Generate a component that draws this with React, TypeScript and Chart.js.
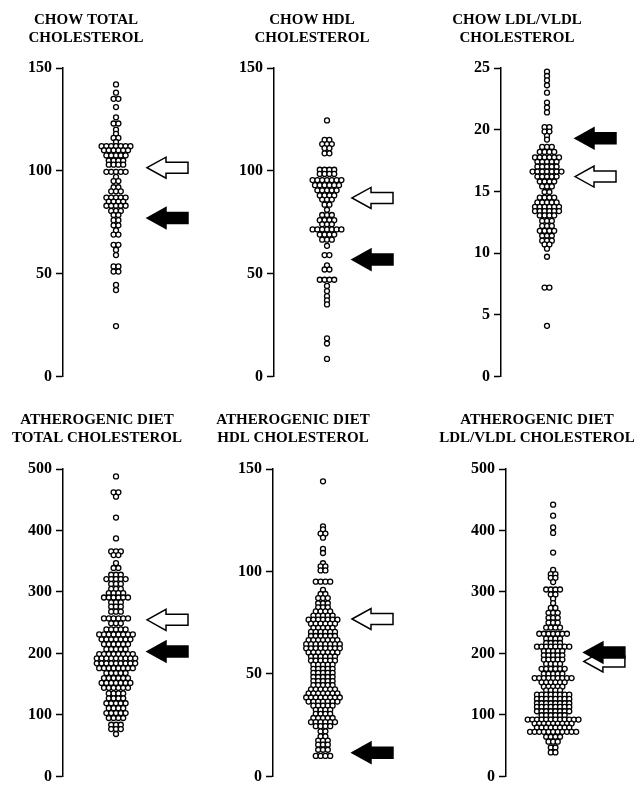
import React, { useEffect, useRef } from "react";
import { Chart, registerables } from "chart.js";

Chart.register(...registerables);

const FONT = "'Liberation Serif', 'Times New Roman', Times, serif";

// ---------------- data ----------------
// Each panel: dot rows given as level (mg/dl) and number of animals at that level.
const chowTotalLevels = [142, 138, 135, 131, 126, 123, 120, 118, 116, 114, 112, 110, 107.5, 105, 103, 99.5, 97, 95, 92, 90, 87, 85, 83, 80.5, 78.5, 76, 73.5, 71, 69, 64, 61.5, 59, 53.5, 51, 44.5, 42, 24.5];
const chowTotalCounts = [1, 1, 2, 1, 1, 2, 1, 1, 2, 1, 7, 6, 5, 4, 4, 5, 1, 2, 2, 3, 5, 4, 5, 3, 2, 2, 2, 1, 2, 2, 1, 1, 2, 2, 1, 1, 1];

const chowHdlLevels = [124.5, 115, 113, 111, 108.5, 100.5, 98.5, 95.5, 93, 90.5, 88, 86, 83.5, 81, 78.5, 76, 74, 71.5, 69, 66.5, 63.5, 59, 54, 52, 47, 44, 41.5, 39, 37, 35, 18.5, 16, 8.5];
const chowHdlCounts = [1, 2, 3, 2, 2, 4, 4, 7, 6, 5, 4, 3, 2, 1, 3, 4, 3, 7, 4, 3, 1, 2, 1, 2, 4, 1, 1, 1, 1, 1, 1, 1, 1];

const chowLdlLevels = [24.7, 24.35, 24.0, 23.6, 23.0, 22.2, 21.8, 21.4, 20.2, 19.85, 19.5, 19.2, 18.6, 18.2, 17.75, 17.4, 17.0, 16.6, 16.2, 15.8, 15.4, 14.95, 14.5, 14.1, 13.75, 13.4, 13.05, 12.6, 12.2, 11.8, 11.4, 11.0, 10.7, 10.35, 9.7, 7.2, 4.1];
const chowLdlCounts = [1, 1, 1, 1, 1, 1, 1, 1, 2, 2, 1, 1, 3, 4, 6, 5, 5, 7, 5, 4, 3, 2, 4, 5, 6, 6, 4, 3, 3, 4, 3, 3, 2, 1, 1, 2, 1];

const athTotalLevels = [488, 462, 455, 421, 387, 366, 360, 347, 339, 328, 321, 313, 305, 298, 291, 283, 276, 268, 257, 249, 239, 231, 223, 215, 207, 199, 192, 184, 176, 168, 160, 152, 144, 135, 127, 119, 111, 103, 95, 84, 77, 69];
const athTotalCounts = [1, 2, 1, 1, 1, 3, 2, 1, 2, 3, 5, 3, 3, 4, 6, 3, 3, 3, 6, 3, 5, 8, 7, 6, 5, 8, 9, 9, 8, 5, 6, 7, 6, 4, 4, 5, 4, 5, 4, 3, 3, 1];

const athHdlLevels = [144, 122, 120.5, 118.5, 116.5, 111, 109, 104, 102.5, 100.5, 95, 91, 89, 87, 84.5, 82.5, 80.5, 78.5, 76.5, 74.5, 72.5, 70.5, 68.5, 66.5, 64.5, 62.5, 60.5, 58.5, 56.5, 54.5, 52.5, 50.5, 48.5, 46.5, 44.5, 42.5, 40.5, 38.5, 36.5, 34.5, 32.5, 30.5, 28.5, 26.5, 24.5, 22, 19.5, 17.5, 15.5, 13, 10];
const athHdlCounts = [1, 1, 1, 2, 1, 1, 1, 1, 2, 2, 4, 1, 2, 3, 3, 3, 4, 5, 7, 6, 5, 6, 6, 7, 8, 8, 7, 6, 6, 5, 5, 5, 5, 5, 5, 6, 7, 8, 7, 5, 4, 4, 5, 6, 4, 2, 2, 3, 3, 3, 4];

const athLdlLevels = [442, 424, 405, 396, 364, 336, 329, 323, 316, 304, 296, 289, 282, 274, 266, 258, 250, 242, 232, 224, 217, 211, 204, 197, 190, 183, 175, 167, 160, 153, 146, 140, 133, 126, 119, 113, 106, 99.5, 92.5, 86, 79.5, 72.5, 64.5, 56.5, 47, 39];
const athLdlCounts = [1, 1, 1, 1, 1, 1, 2, 2, 1, 4, 2, 1, 1, 2, 3, 3, 3, 4, 7, 4, 4, 8, 5, 5, 5, 4, 6, 5, 9, 6, 5, 4, 8, 8, 8, 8, 8, 6, 12, 9, 8, 11, 4, 3, 2, 2];

// arrow markers (open and filled), in panel order
const openArrowValues = [101.5, 86.8, 16.2, 254.6, 76.8, 187];
const filledArrowValues = [77, 56.8, 19.3, 203, 11.6, 201.6];

// axis ticks
const yMaxValues = [150, 150, 25, 500, 150, 500];
const yStepValues = [50, 50, 5, 100, 50, 100];

const panelTitles = [
  ["CHOW TOTAL", "CHOLESTEROL"],
  ["CHOW HDL", "CHOLESTEROL"],
  ["CHOW LDL/VLDL", "CHOLESTEROL"],
  ["ATHEROGENIC DIET", "TOTAL CHOLESTEROL"],
  ["ATHEROGENIC DIET", "HDL CHOLESTEROL"],
  ["ATHEROGENIC DIET", "LDL/VLDL CHOLESTEROL"],
];

const panelLevels = [chowTotalLevels, chowHdlLevels, chowLdlLevels, athTotalLevels, athHdlLevels, athLdlLevels];
const panelCounts = [chowTotalCounts, chowHdlCounts, chowLdlCounts, athTotalCounts, athHdlCounts, athLdlCounts];

// ---------------- layout (styling only) ----------------
type Layout = {
  left: number; top: number; w: number; h: number;
  axisW: number; padRight: number; padBottom: number;
  titleTop: number; titleBottom: number;
  dotCenter: number; arrowTip: number;
};

const layouts: Layout[] = [
  { left: 0, top: 0, w: 215, h: 390, axisW: 63, padRight: 43, padBottom: 13, titleTop: 11, titleBottom: 21, dotCenter: 116, arrowTip: 147 },
  { left: 215, top: 0, w: 215, h: 390, axisW: 59, padRight: 21, padBottom: 13, titleTop: 11, titleBottom: 21, dotCenter: 327, arrowTip: 352 },
  { left: 430, top: 0, w: 214, h: 390, axisW: 71, padRight: 40, padBottom: 13, titleTop: 11, titleBottom: 21, dotCenter: 547, arrowTip: 575 },
  { left: 0, top: 390, w: 215, h: 400, axisW: 63, padRight: 21, padBottom: 13, titleTop: 21, titleBottom: 22, dotCenter: 116, arrowTip: 147 },
  { left: 215, top: 390, w: 215, h: 400, axisW: 58, padRight: 59, padBottom: 13, titleTop: 21, titleBottom: 22, dotCenter: 323, arrowTip: 352 },
  { left: 430, top: 390, w: 214, h: 400, axisW: 76, padRight: 0, padBottom: 13, titleTop: 21, titleBottom: 22, dotCenter: 555, arrowTip: 587 },
];

const DOT_SPACING = 4.8;

function rowsToPoints(levels: number[], counts: number[]) {
  const pts: { x: number; y: number }[] = [];
  levels.forEach((v, i) => {
    const n = counts[i];
    for (let k = 0; k < n; k++) {
      pts.push({ x: (k - (n - 1) / 2) * DOT_SPACING, y: v });
    }
  });
  return pts;
}

const arrowPlugin = {
  id: "arrows",
  afterDatasetsDraw(chart: any, _args: any, opts: any) {
    const { ctx } = chart;
    const xs = chart.scales.x;
    const ys = chart.scales.y;
    const tipX = xs.getPixelForValue(opts.tip);
    const draw = (val: number, filled: boolean) => {
      const yy = ys.getPixelForValue(val);
      ctx.save();
      ctx.beginPath();
      ctx.moveTo(tipX, yy);
      ctx.lineTo(tipX + 19, yy - 10.5);
      ctx.lineTo(tipX + 19, yy - 5.5);
      ctx.lineTo(tipX + 41, yy - 5.5);
      ctx.lineTo(tipX + 41, yy + 5.5);
      ctx.lineTo(tipX + 19, yy + 5.5);
      ctx.lineTo(tipX + 19, yy + 10.5);
      ctx.closePath();
      ctx.fillStyle = filled ? "#000" : "#fff";
      ctx.fill();
      ctx.lineWidth = 1.5;
      ctx.strokeStyle = "#000";
      ctx.lineJoin = "miter";
      ctx.stroke();
      ctx.restore();
    };
    draw(opts.open, false);
    draw(opts.filled, true);
  },
};

function Panel({ index }: { index: number }) {
  const ref = useRef<HTMLCanvasElement>(null);
  const L = layouts[index];
  useEffect(() => {
    if (!ref.current) return;
    const areaLeft = L.left + L.axisW;
    const areaRight = L.left + L.w - L.padRight;
    const chart = new Chart(ref.current, {
      type: "scatter",
      data: {
        datasets: [
          {
            data: rowsToPoints(panelLevels[index], panelCounts[index]),
            pointRadius: 2.5,
            pointBorderWidth: 1.3,
            pointBackgroundColor: "#fff",
            pointBorderColor: "#000",
            pointStyle: "circle",
            clip: false as any,
          },
        ],
      },
      options: {
        responsive: false,
        animation: false,
        devicePixelRatio: 1,
        events: [],
        layout: { padding: { left: 0, right: L.padRight, top: 0, bottom: L.padBottom } },
        plugins: {
          legend: { display: false },
          tooltip: { enabled: false },
          title: {
            display: true,
            text: panelTitles[index],
            color: "#000",
            font: { family: FONT, size: 15, weight: "bold", lineHeight: 1.2 },
            padding: { top: L.titleTop, bottom: L.titleBottom },
          },
          arrows: {
            tip: L.arrowTip - L.dotCenter,
            open: openArrowValues[index],
            filled: filledArrowValues[index],
          },
        } as any,
        scales: {
          x: {
            type: "linear",
            display: false,
            min: areaLeft - L.dotCenter,
            max: areaRight - L.dotCenter,
          },
          y: {
            type: "linear",
            min: 0,
            max: yMaxValues[index],
            afterFit: (scale: any) => {
              scale.width = L.axisW;
            },
            ticks: {
              stepSize: yStepValues[index],
              color: "#000",
              padding: 4,
              font: { family: FONT, size: 16, weight: "bold" },
            },
            grid: {
              drawOnChartArea: false,
              drawTicks: true,
              tickLength: 7,
              tickWidth: 1.5,
              tickColor: "#000",
            },
            border: { display: true, color: "#000", width: 1.5 },
          },
        },
      },
      plugins: [arrowPlugin],
    });
    return () => chart.destroy();
  }, []);
  return (
    <canvas
      ref={ref}
      width={L.w}
      height={L.h}
      style={{ position: "absolute", left: L.left, top: L.top, width: L.w, height: L.h }}
    />
  );
}

export default function App() {
  return (
    <div
      style={{
        position: "absolute",
        left: 0,
        top: 0,
        width: 644,
        height: 785,
        overflow: "hidden",
        background: "#fff",
      }}
    >
      {layouts.map((_, i) => (
        <Panel key={i} index={i} />
      ))}
    </div>
  );
}
